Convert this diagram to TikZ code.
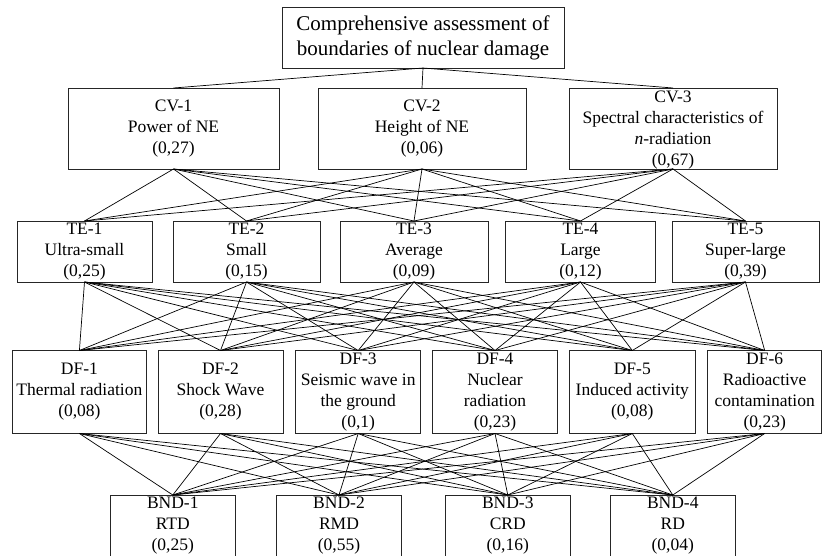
\documentclass[tikz,border=0pt]{standalone}
\usepackage{fontspec}
\setmainfont{Liberation Serif}
\begin{document}
\begin{tikzpicture}[x=1pt,y=-1pt,
  bx/.style={draw=black!85,line width=0.8pt,inner sep=0pt,outer sep=0pt,align=center,
    font=\fontsize{17.5}{21}\selectfont,minimum height=#1},
  bx/.default=61pt,
  txt/.style={inner sep=0pt,align=center,font=\fontsize{17.5}{21}\selectfont},
  conn/.style={draw=black,line width=0.7pt}]
\useasboundingbox (0,0) rectangle (823,555);
% top
\node[bx=61pt,minimum width=282pt,font=\fontsize{21}{25}\selectfont] (top) at (423,37.5)
  {Comprehensive assessment of\\boundaries of nuclear damage};
% CV row
\node[bx=81pt,minimum width=211pt] (cv1) at (173.5,128.5) {CV-1\\Power of NE\\(0,27)};
\node[bx=81pt,minimum width=208pt] (cv2) at (422,128.5) {CV-2\\Height of NE\\(0,06)};
\node[bx=81pt,minimum width=208pt] (cv3) at (673,128.5) {};
\node[txt] (cv3t) at (673,130.5) {CV-3\\Spectral characteristics of\\\textit{n}-radiation\\(0,67)};
% TE row
\node[bx=61pt,minimum width=135pt] (te1) at (84.5,251.5) {TE-1\\Ultra-small\\(0,25)};
\node[bx=61pt,minimum width=147pt] (te2) at (246.5,251.5) {TE-2\\Small\\(0,15)};
\node[bx=61pt,minimum width=148pt] (te3) at (414,251.5) {TE-3\\Average\\(0,09)};
\node[bx=61pt,minimum width=150pt] (te4) at (580.5,251.5) {TE-4\\Large\\(0,12)};
\node[bx=61pt,minimum width=147pt] (te5) at (745.5,251.5) {TE-5\\Super-large\\(0,39)};
% DF row
\node[bx=83pt,minimum width=133.5pt] (df1) at (79.4,392) {DF-1\\Thermal radiation\\(0,08)};
\node[bx=83pt,minimum width=125pt] (df2) at (220.5,392) {DF-2\\Shock Wave\\(0,28)};
\node[bx=83pt,minimum width=125pt] (df3) at (358.2,392) {DF-3\\Seismic wave in\\the ground\\(0,1)};
\node[bx=83pt,minimum width=124.6pt] (df4) at (495,392) {DF-4\\Nuclear\\radiation\\(0,23)};
\node[bx=83pt,minimum width=125.5pt] (df5) at (632.3,392) {DF-5\\Induced activity\\(0,08)};
\node[bx=83pt,minimum width=114pt] (df6) at (764.7,392) {DF-6\\Radioactive\\contamination\\(0,23)};
% BND row
\node[bx=62pt,minimum width=124.5pt] (bnd1) at (172.8,526) {BND-1\\RTD\\(0,25)};
\node[bx=62pt,minimum width=125pt] (bnd2) at (339,526) {BND-2\\RMD\\(0,55)};
\node[bx=62pt,minimum width=125.6pt] (bnd3) at (507.8,526) {BND-3\\CRD\\(0,16)};
\node[bx=62pt,minimum width=124.5pt] (bnd4) at (672.8,526) {BND-4\\RD\\(0,04)};
% connectors
\foreach \b in {cv1,cv2,cv3} \draw[conn] (top.south) -- (\b.north);
\foreach \a in {cv1,cv2,cv3} \foreach \b in {te1,te2,te3,te4,te5} \draw[conn] (\a.south) -- (\b.north);
\foreach \a in {te1,te2,te3,te4,te5} \foreach \b in {df1,df2,df3,df4,df5,df6} \draw[conn] (\a.south) -- (\b.north);
\foreach \a in {df1,df2,df3,df4,df5,df6} \foreach \b in {bnd1,bnd2,bnd3,bnd4} \draw[conn] (\a.south) -- (\b.north);
\end{tikzpicture}
\end{document}
